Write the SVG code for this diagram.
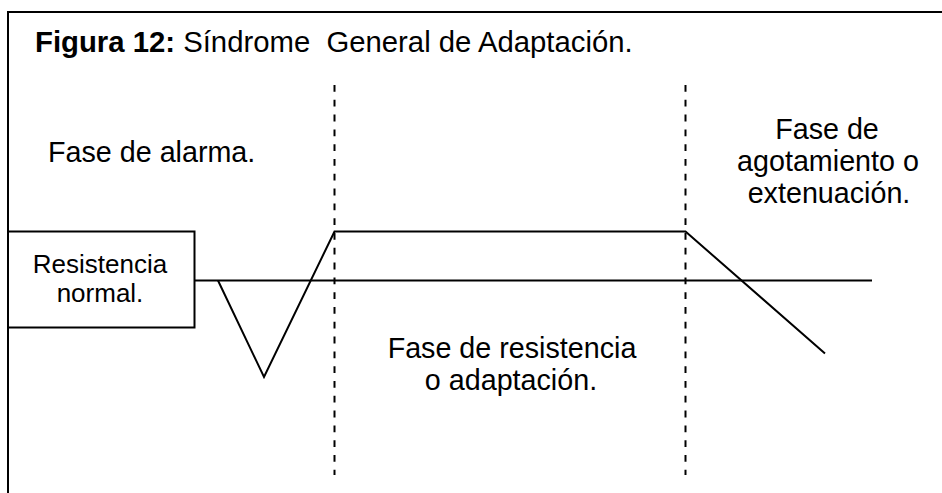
<svg xmlns="http://www.w3.org/2000/svg" width="942" height="493" viewBox="0 0 942 493">
  <style>
    text { font-family: "Liberation Sans", Arial, sans-serif; fill: #000; }
    .t { font-size: 28.7px; }
    .box { font-size: 26px; }
    .solid { fill: none; stroke: #000; stroke-width: 2; stroke-linejoin: miter; }
    .dash { fill: none; stroke: #000; stroke-width: 2; stroke-dasharray: 6.8 8; }
  </style>
  <rect x="0" y="0" width="942" height="493" fill="#fff"/>
  <g id="frame">
    <path class="solid" d="M8,493 V12 H942"/>
  </g>
  <g id="title">
    <text x="35" y="52" font-size="29.3" xml:space="preserve"><tspan font-weight="bold">Figura 12:</tspan> Síndrome  General de Adaptación.</text>
  </g>
  <g id="connectors">
    <line class="dash" x1="334.5" y1="85" x2="334.5" y2="475"/>
    <line class="dash" x1="685.5" y1="85" x2="685.5" y2="475"/>
    <line class="solid" x1="194.5" y1="280.5" x2="872" y2="280.5"/>
    <polyline class="solid" points="218,280.5 264,377 334.5,231.5 685.5,231.5 825,353.5"/>
  </g>
  <g id="resistencia-normal">
    <rect class="solid" x="8" y="231.5" width="186.5" height="96"/>
    <text class="box" x="100" y="272.5" text-anchor="middle">Resistencia</text>
    <text class="box" x="100" y="302" text-anchor="middle">normal.</text>
  </g>
  <g id="fase-alarma">
    <text class="t" x="48" y="162">Fase de alarma.</text>
  </g>
  <g id="fase-resistencia">
    <text class="t" x="512" y="358" text-anchor="middle">Fase de resistencia</text>
    <text class="t" x="511" y="390" text-anchor="middle">o adaptación.</text>
  </g>
  <g id="fase-agotamiento">
    <text class="t" x="827" y="139" text-anchor="middle">Fase de</text>
    <text class="t" x="828" y="171" text-anchor="middle">agotamiento o</text>
    <text class="t" x="829" y="203" text-anchor="middle">extenuación.</text>
  </g>
</svg>
